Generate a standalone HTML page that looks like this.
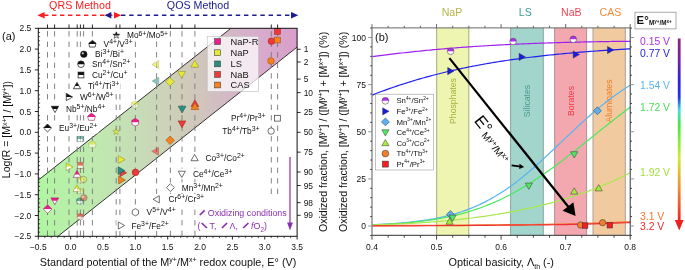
<!DOCTYPE html><html><head><meta charset="utf-8"><style>html,body{margin:0;padding:0;background:#fff;overflow:hidden;}svg{display:block;filter:blur(0.35px);}text{font-family:"Liberation Sans", sans-serif;}</style></head><body>
<svg width="685" height="270" viewBox="0 0 685 270">
<rect width="685" height="270" fill="#fff"/>
<defs><linearGradient id="bandg" x1="38.3" y1="0" x2="297.1" y2="0" gradientUnits="userSpaceOnUse"><stop offset="0" stop-color="#b0f6a2"/><stop offset="0.24" stop-color="#c0e8b0"/><stop offset="0.41" stop-color="#c8dab8"/><stop offset="0.547" stop-color="#cfcdb8"/><stop offset="0.625" stop-color="#d0c6bc"/><stop offset="0.768" stop-color="#d4b4c8"/><stop offset="0.868" stop-color="#d8aacc"/><stop offset="1" stop-color="#d89fca"/></linearGradient><clipPath id="clipA"><rect x="38.3" y="28.3" width="258.8" height="208"/></clipPath></defs>
<g clip-path="url(#clipA)">
<polygon points="38.3,180.08 230.9,28.3 297.1,28.3 297.1,47.1 57.91,236.3 38.3,236.3" fill="url(#bandg)"/>
<line x1="38.3" y1="180.08" x2="230.9" y2="28.3" stroke="#333" stroke-width="1"/>
<line x1="57.91" y1="236.3" x2="297.1" y2="47.1" stroke="#333" stroke-width="1"/>
</g>
<line x1="47.5" y1="28.3" x2="47.5" y2="236.3" stroke="#777" stroke-width="0.9" stroke-dasharray="5.4,5.1" stroke-dashoffset="-2.8"/>
<line x1="54.6" y1="28.3" x2="54.6" y2="236.3" stroke="#777" stroke-width="0.9" stroke-dasharray="5.4,5.1" stroke-dashoffset="-2.8"/>
<line x1="69" y1="28.3" x2="69" y2="236.3" stroke="#777" stroke-width="0.9" stroke-dasharray="5.4,5.1" stroke-dashoffset="-2.8"/>
<line x1="77.2" y1="28.3" x2="77.2" y2="236.3" stroke="#777" stroke-width="0.9" stroke-dasharray="5.4,5.1" stroke-dashoffset="-2.8"/>
<line x1="80.4" y1="28.3" x2="80.4" y2="236.3" stroke="#777" stroke-width="0.9" stroke-dasharray="5.4,5.1" stroke-dashoffset="-2.8"/>
<line x1="83.6" y1="28.3" x2="83.6" y2="236.3" stroke="#777" stroke-width="0.9" stroke-dasharray="5.4,5.1" stroke-dashoffset="-2.8"/>
<line x1="92.4" y1="28.3" x2="92.4" y2="236.3" stroke="#777" stroke-width="0.9" stroke-dasharray="5.4,5.1" stroke-dashoffset="-2.8"/>
<line x1="116.2" y1="28.3" x2="116.2" y2="236.3" stroke="#777" stroke-width="0.9" stroke-dasharray="5.4,5.1" stroke-dashoffset="-2.8"/>
<line x1="119.9" y1="28.3" x2="119.9" y2="236.3" stroke="#777" stroke-width="0.9" stroke-dasharray="5.4,5.1" stroke-dashoffset="-2.8"/>
<line x1="135.4" y1="28.3" x2="135.4" y2="236.3" stroke="#777" stroke-width="0.9" stroke-dasharray="5.4,5.1" stroke-dashoffset="-2.8"/>
<line x1="156.6" y1="28.3" x2="156.6" y2="236.3" stroke="#777" stroke-width="0.9" stroke-dasharray="5.4,5.1" stroke-dashoffset="-2.8"/>
<line x1="170.4" y1="28.3" x2="170.4" y2="236.3" stroke="#777" stroke-width="0.9" stroke-dasharray="5.4,5.1" stroke-dashoffset="-2.8"/>
<line x1="182" y1="28.3" x2="182" y2="236.3" stroke="#777" stroke-width="0.9" stroke-dasharray="5.4,5.1" stroke-dashoffset="-2.8"/>
<line x1="194.9" y1="28.3" x2="194.9" y2="236.3" stroke="#777" stroke-width="0.9" stroke-dasharray="5.4,5.1" stroke-dashoffset="-2.8"/>
<line x1="271.3" y1="28.3" x2="271.3" y2="236.3" stroke="#777" stroke-width="0.9" stroke-dasharray="5.4,5.1" stroke-dashoffset="-2.8"/>
<line x1="277.6" y1="28.3" x2="277.6" y2="236.3" stroke="#777" stroke-width="0.9" stroke-dasharray="5.4,5.1" stroke-dashoffset="-2.8"/>
<rect x="207.2" y="36.3" width="51.4" height="55.3" fill="#fff" fill-opacity="0.72" stroke="#bbb" stroke-width="0.6"/>
<rect x="214.7" y="38.7" width="5.8" height="5.8" fill="#ec1e8c" stroke="#333" stroke-width="0.55"/>
<text x="230.5" y="44.9" font-size="9.3" fill="#111">NaP-R</text>
<rect x="214.7" y="49.8" width="5.8" height="5.8" fill="#e6e83c" stroke="#333" stroke-width="0.55"/>
<text x="230.5" y="56" font-size="9.3" fill="#111">NaP</text>
<rect x="214.7" y="61" width="5.8" height="5.8" fill="#2a8f80" stroke="#333" stroke-width="0.55"/>
<text x="230.5" y="67.2" font-size="9.3" fill="#111">LS</text>
<rect x="214.7" y="71.5" width="5.8" height="5.8" fill="#f03a3a" stroke="#333" stroke-width="0.55"/>
<text x="230.5" y="77.7" font-size="9.3" fill="#111">NaB</text>
<rect x="214.7" y="82.1" width="5.8" height="5.8" fill="#f58220" stroke="#333" stroke-width="0.55"/>
<text x="230.5" y="88.3" font-size="9.3" fill="#111">CAS</text>
<rect x="112.5" y="30.2" width="56.6" height="10.5" fill="#fff"/>
<rect x="82" y="38.8" width="51.71" height="10.5" fill="#fff"/>
<rect x="74.5" y="49.1" width="50.46" height="10.5" fill="#fff"/>
<rect x="74.5" y="59" width="56.85" height="10.5" fill="#fff"/>
<rect x="74.5" y="69.8" width="53.92" height="10.5" fill="#fff"/>
<rect x="73" y="80.8" width="47.25" height="10.5" fill="#fff"/>
<rect x="64" y="91.8" width="50.71" height="10.5" fill="#fff"/>
<rect x="44" y="103.8" width="62.26" height="10.5" fill="#fff"/>
<rect x="43.5" y="122.8" width="54.85" height="10.5" fill="#fff"/>
<rect x="190.1" y="152.8" width="58.66" height="10.4" fill="#fff"/>
<rect x="177.3" y="168.7" width="58.96" height="10.4" fill="#fff"/>
<rect x="165.9" y="182.4" width="61" height="10.4" fill="#fff"/>
<rect x="152.1" y="194.1" width="56.06" height="10.4" fill="#fff"/>
<rect x="130.9" y="207.1" width="48.81" height="10.4" fill="#fff"/>
<rect x="116.5" y="220.3" width="56.31" height="10.4" fill="#fff"/>
<rect x="229.96" y="113" width="36.14" height="10" fill="#fff"/>
<rect x="221.19" y="126" width="38.91" height="10" fill="#fff"/>
<text x="127" y="38.4" font-size="8.3" fill="#111" text-anchor="start" ><tspan>Mo</tspan><tspan dy="-2.9" font-size="6.9">6+</tspan><tspan dy="2.9" font-size="8.3">/Mo</tspan><tspan dy="-2.9" font-size="6.9">5+</tspan></text>
<text x="103.6" y="47" font-size="8.3" fill="#111" text-anchor="start" ><tspan>V</tspan><tspan dy="-2.9" font-size="6.9">4+</tspan><tspan dy="2.9" font-size="8.3">/V</tspan><tspan dy="-2.9" font-size="6.9">3+</tspan></text>
<text x="95" y="57.3" font-size="8.3" fill="#111" text-anchor="start" ><tspan>Bi</tspan><tspan dy="-2.9" font-size="6.9">3+</tspan><tspan dy="2.9" font-size="8.3">/Bi</tspan><tspan dy="-2.9" font-size="6.9">+</tspan></text>
<text x="92" y="67.2" font-size="8.3" fill="#111" text-anchor="start" ><tspan>Sn</tspan><tspan dy="-2.9" font-size="6.9">4+</tspan><tspan dy="2.9" font-size="8.3">/Sn</tspan><tspan dy="-2.9" font-size="6.9">2+</tspan></text>
<text x="92" y="78" font-size="8.3" fill="#111" text-anchor="start" ><tspan>Cu</tspan><tspan dy="-2.9" font-size="6.9">2+</tspan><tspan dy="2.9" font-size="8.3">/Cu</tspan><tspan dy="-2.9" font-size="6.9">+</tspan></text>
<text x="88" y="89" font-size="8.3" fill="#111" text-anchor="start" ><tspan>Ti</tspan><tspan dy="-2.9" font-size="6.9">4+</tspan><tspan dy="2.9" font-size="8.3">/Ti</tspan><tspan dy="-2.9" font-size="6.9">3+</tspan></text>
<text x="80" y="100" font-size="8.3" fill="#111" text-anchor="start" ><tspan>W</tspan><tspan dy="-2.9" font-size="6.9">6+</tspan><tspan dy="2.9" font-size="8.3">/W</tspan><tspan dy="-2.9" font-size="6.9">5+</tspan></text>
<text x="66" y="112" font-size="8.3" fill="#111" text-anchor="start" ><tspan>Nb</tspan><tspan dy="-2.9" font-size="6.9">5+</tspan><tspan dy="2.9" font-size="8.3">/Nb</tspan><tspan dy="-2.9" font-size="6.9">4+</tspan></text>
<text x="59" y="131" font-size="8.3" fill="#111" text-anchor="start" ><tspan>Eu</tspan><tspan dy="-2.9" font-size="6.9">3+</tspan><tspan dy="2.9" font-size="8.3">/Eu</tspan><tspan dy="-2.9" font-size="6.9">2+</tspan></text>
<text x="205.5" y="161" font-size="8.3" fill="#111" text-anchor="start" ><tspan>Co</tspan><tspan dy="-2.9" font-size="6.9">3+</tspan><tspan dy="2.9" font-size="8.3">/Co</tspan><tspan dy="-2.9" font-size="6.9">2+</tspan></text>
<text x="193" y="176.9" font-size="8.3" fill="#111" text-anchor="start" ><tspan>Ce</tspan><tspan dy="-2.9" font-size="6.9">4+</tspan><tspan dy="2.9" font-size="8.3">/Ce</tspan><tspan dy="-2.9" font-size="6.9">3+</tspan></text>
<text x="181.8" y="190.6" font-size="8.3" fill="#111" text-anchor="start" ><tspan>Mn</tspan><tspan dy="-2.9" font-size="6.9">3+</tspan><tspan dy="2.9" font-size="8.3">/Mn</tspan><tspan dy="-2.9" font-size="6.9">2+</tspan></text>
<text x="168.6" y="202.3" font-size="8.3" fill="#111" text-anchor="start" ><tspan>Cr</tspan><tspan dy="-2.9" font-size="6.9">6+</tspan><tspan dy="2.9" font-size="8.3">/Cr</tspan><tspan dy="-2.9" font-size="6.9">3+</tspan></text>
<text x="146.6" y="215.3" font-size="8.3" fill="#111" text-anchor="start" ><tspan>V</tspan><tspan dy="-2.9" font-size="6.9">5+</tspan><tspan dy="2.9" font-size="8.3">/V</tspan><tspan dy="-2.9" font-size="6.9">4+</tspan></text>
<text x="131.4" y="228.5" font-size="8.3" fill="#111" text-anchor="start" ><tspan>Fe</tspan><tspan dy="-2.9" font-size="6.9">3+</tspan><tspan dy="2.9" font-size="8.3">/Fe</tspan><tspan dy="-2.9" font-size="6.9">2+</tspan></text>
<text x="265.6" y="120.8" font-size="8.3" fill="#111" text-anchor="end" ><tspan>Pr</tspan><tspan dy="-2.9" font-size="6.9">4+</tspan><tspan dy="2.9" font-size="8.3">/Pr</tspan><tspan dy="-2.9" font-size="6.9">3+</tspan></text>
<text x="259.6" y="133.9" font-size="8.3" fill="#111" text-anchor="end" ><tspan>Tb</tspan><tspan dy="-2.9" font-size="6.9">4+</tspan><tspan dy="2.9" font-size="8.3">/Tb</tspan><tspan dy="-2.9" font-size="6.9">3+</tspan></text>
<g><clipPath id="c1"><rect x="110.1" y="29.2" width="12.4" height="6.2"/></clipPath><polygon points="116.3,31.83 117.17,34.2 119.69,34.3 117.72,35.86 118.4,38.28 116.3,36.89 114.2,38.28 114.88,35.86 112.91,34.3 115.43,34.2" fill="#fff"/><polygon points="116.3,31.83 117.17,34.2 119.69,34.3 117.72,35.86 118.4,38.28 116.3,36.89 114.2,38.28 114.88,35.86 112.91,34.3 115.43,34.2" fill="#111" clip-path="url(#c1)"/><polygon points="116.3,31.83 117.17,34.2 119.69,34.3 117.72,35.86 118.4,38.28 116.3,36.89 114.2,38.28 114.88,35.86 112.91,34.3 115.43,34.2" fill="none" stroke="#111" stroke-width="0.6"/></g>
<g><clipPath id="c2"><rect x="85.2" y="36.8" width="14.4" height="7.2"/></clipPath><polygon points="92.4,40.4 96,43.28 95.1,47.06 89.7,47.06 88.8,43.28" fill="#fff"/><polygon points="92.4,40.4 96,43.28 95.1,47.06 89.7,47.06 88.8,43.28" fill="#111" clip-path="url(#c2)"/><polygon points="92.4,40.4 96,43.28 95.1,47.06 89.7,47.06 88.8,43.28" fill="none" stroke="#111" stroke-width="0.7"/></g>
<defs><radialGradient id="c3" cx="0.35" cy="0.35" r="0.7"><stop offset="0" stop-color="#fff"/><stop offset="0.35" stop-color="#111"/><stop offset="1" stop-color="#111"/></radialGradient></defs><circle cx="83.8" cy="54.3" r="3.3" fill="url(#c3)" stroke="#222" stroke-width="0.5" opacity="1"/>
<g><clipPath id="c4"><rect x="74.4" y="57.6" width="13.2" height="6.6"/></clipPath><circle cx="81" cy="64.2" r="3.3" fill="#fff"/><circle cx="81" cy="64.2" r="3.3" fill="#111" clip-path="url(#c4)"/><circle cx="81" cy="64.2" r="3.3" fill="none" stroke="#111" stroke-width="0.7"/></g>
<g><clipPath id="c5"><rect x="75.2" y="69.2" width="11.6" height="5.8"/></clipPath><rect x="78.1" y="72.1" width="5.8" height="5.8" fill="#fff"/><rect x="78.1" y="72.1" width="5.8" height="5.8" fill="#111" clip-path="url(#c5)"/><rect x="78.1" y="72.1" width="5.8" height="5.8" fill="none" stroke="#111" stroke-width="0.7"/></g>
<g><clipPath id="c6"><rect x="69.8" y="78.8" width="14.4" height="7.2"/></clipPath><polygon points="77,82.4 80.6,88.7 73.4,88.7" fill="#fff"/><polygon points="77,82.4 80.6,88.7 73.4,88.7" fill="#111" clip-path="url(#c6)"/><polygon points="77,82.4 80.6,88.7 73.4,88.7" fill="none" stroke="#111" stroke-width="0.7"/></g>
<g><clipPath id="c7"><rect x="61.8" y="89.8" width="14.4" height="7.2"/></clipPath><polygon points="72.6,97 66.3,93.4 66.3,100.6" fill="#fff"/><polygon points="72.6,97 66.3,93.4 66.3,100.6" fill="#111" clip-path="url(#c7)"/><polygon points="72.6,97 66.3,93.4 66.3,100.6" fill="none" stroke="#111" stroke-width="0.7"/></g>
<g><clipPath id="c8"><rect x="47.8" y="101.8" width="14.4" height="7.2"/></clipPath><polygon points="55,112.6 58.6,106.3 51.4,106.3" fill="#fff"/><polygon points="55,112.6 58.6,106.3 51.4,106.3" fill="#111" clip-path="url(#c8)"/><polygon points="55,112.6 58.6,106.3 51.4,106.3" fill="none" stroke="#111" stroke-width="0.7"/></g>
<g><clipPath id="c9"><rect x="40.3" y="120.8" width="14.4" height="7.2"/></clipPath><polygon points="47.5,124.04 51.46,128 47.5,131.96 43.54,128" fill="#fff"/><polygon points="47.5,124.04 51.46,128 47.5,131.96 43.54,128" fill="#111" clip-path="url(#c9)"/><polygon points="47.5,124.04 51.46,128 47.5,131.96 43.54,128" fill="none" stroke="#111" stroke-width="0.7"/></g>
<g><polygon points="194.6,154.4 198.2,160.7 191,160.7" fill="#fff" stroke="#333" stroke-width="0.7"/></g>
<g><polygon points="181.8,177.5 185.4,171.2 178.2,171.2" fill="#fff" stroke="#333" stroke-width="0.7"/></g>
<g><polygon points="170.4,183.64 174.36,187.6 170.4,191.56 166.44,187.6" fill="#fff" stroke="#333" stroke-width="0.7"/></g>
<g><polygon points="153,199.3 159.3,195.7 159.3,202.9" fill="#fff" stroke="#333" stroke-width="0.7"/></g>
<g><polygon points="138.52,214.1 135.4,215.9 132.28,214.1 132.28,210.5 135.4,208.7 138.52,210.5" fill="#fff" stroke="#333" stroke-width="0.7"/></g>
<g><polygon points="124.6,225.5 118.3,221.9 118.3,229.1" fill="#fff" stroke="#333" stroke-width="0.7"/></g>
<g><rect x="274.5" y="115.3" width="5.8" height="5.8" fill="#fff" stroke="#333" stroke-width="0.7"/></g>
<g><circle cx="271.1" cy="131.1" r="3.2" fill="#fff" stroke="#333" stroke-width="0.7"/></g>
<g><clipPath id="c10"><rect x="83.7" y="109.2" width="15.6" height="7.8"/></clipPath><polygon points="91.5,113.1 95.4,116.22 94.42,120.31 88.58,120.31 87.6,116.22" fill="#fff"/><polygon points="91.5,113.1 95.4,116.22 94.42,120.31 88.58,120.31 87.6,116.22" fill="#ec1e8c" clip-path="url(#c10)"/><polygon points="91.5,113.1 95.4,116.22 94.42,120.31 88.58,120.31 87.6,116.22" fill="none" stroke="#921256" stroke-width="0.55"/></g>
<g><clipPath id="c11"><rect x="127.4" y="114.5" width="15.6" height="7.8"/></clipPath><polygon points="138.58,124.25 135.2,126.2 131.82,124.25 131.82,120.35 135.2,118.4 138.58,120.35" fill="#fff"/><polygon points="138.58,124.25 135.2,126.2 131.82,124.25 131.82,120.35 135.2,118.4 138.58,120.35" fill="#ec1e8c" clip-path="url(#c11)"/><polygon points="138.58,124.25 135.2,126.2 131.82,124.25 131.82,120.35 135.2,118.4 138.58,120.35" fill="none" stroke="#921256" stroke-width="0.55"/></g>
<g><clipPath id="c12"><rect x="69.2" y="166.6" width="15.6" height="7.8"/></clipPath><polygon points="77,170.5 80.9,177.33 73.1,177.33" fill="#fff"/><polygon points="77,170.5 80.9,177.33 73.1,177.33" fill="#ec1e8c" clip-path="url(#c12)"/><polygon points="77,170.5 80.9,177.33 73.1,177.33" fill="none" stroke="#921256" stroke-width="0.55"/></g>
<g><clipPath id="c13"><rect x="47" y="193" width="15.6" height="7.8"/></clipPath><polygon points="54.8,204.7 58.7,197.88 50.9,197.88" fill="#fff"/><polygon points="54.8,204.7 58.7,197.88 50.9,197.88" fill="#ec1e8c" clip-path="url(#c13)"/><polygon points="54.8,204.7 58.7,197.88 50.9,197.88" fill="none" stroke="#921256" stroke-width="0.55"/></g>
<g><clipPath id="c14"><rect x="39.8" y="201.2" width="15.6" height="7.8"/></clipPath><polygon points="47.6,204.71 51.89,209 47.6,213.29 43.31,209" fill="#fff"/><polygon points="47.6,204.71 51.89,209 47.6,213.29 43.31,209" fill="#ec1e8c" clip-path="url(#c14)"/><polygon points="47.6,204.71 51.89,209 47.6,213.29 43.31,209" fill="none" stroke="#921256" stroke-width="0.55"/></g>
<g opacity="0.8"><polygon points="116.1,128.25 116.95,130.54 119.38,130.63 117.47,132.14 118.13,134.49 116.1,133.14 114.07,134.49 114.73,132.14 112.82,130.63 115.25,130.54" fill="#e6e83c" stroke="#8e8f25" stroke-width="0.55"/></g>
<g opacity="0.6"><clipPath id="c15"><rect x="84.5" y="136.6" width="15.6" height="7.8"/></clipPath><polygon points="92.3,140.5 96.2,143.62 95.22,147.72 89.38,147.72 88.4,143.62" fill="#fff"/><polygon points="92.3,140.5 96.2,143.62 95.22,147.72 89.38,147.72 88.4,143.62" fill="#e6e83c" clip-path="url(#c15)"/><polygon points="92.3,140.5 96.2,143.62 95.22,147.72 89.38,147.72 88.4,143.62" fill="none" stroke="#8e8f25" stroke-width="0.55"/></g>
<g opacity="0.6"><clipPath id="c16"><rect x="127.2" y="97" width="15.6" height="7.8"/></clipPath><polygon points="138.38,106.75 135,108.7 131.62,106.75 131.62,102.85 135,100.9 138.38,102.85" fill="#fff"/><polygon points="138.38,106.75 135,108.7 131.62,106.75 131.62,102.85 135,100.9 138.38,102.85" fill="#e6e83c" clip-path="url(#c16)"/><polygon points="138.38,106.75 135,108.7 131.62,106.75 131.62,102.85 135,100.9 138.38,102.85" fill="none" stroke="#8e8f25" stroke-width="0.55"/></g>
<g><clipPath id="c17"><rect x="61.3" y="159" width="15.6" height="7.8"/></clipPath><polygon points="73,166.8 66.17,162.9 66.17,170.7" fill="#fff"/><polygon points="73,166.8 66.17,162.9 66.17,170.7" fill="#e6e83c" clip-path="url(#c17)"/><polygon points="73,166.8 66.17,162.9 66.17,170.7" fill="none" stroke="#8e8f25" stroke-width="0.55"/></g>
<g><clipPath id="c18"><rect x="69.1" y="180.9" width="15.6" height="7.8"/></clipPath><polygon points="76.9,184.8 80.8,191.62 73,191.62" fill="#fff"/><polygon points="76.9,184.8 80.8,191.62 73,191.62" fill="#e6e83c" clip-path="url(#c18)"/><polygon points="76.9,184.8 80.8,191.62 73,191.62" fill="none" stroke="#8e8f25" stroke-width="0.55"/></g>
<g opacity="0.45"><clipPath id="c19"><rect x="75.1" y="186.1" width="10.4" height="5.2"/></clipPath><rect x="77.7" y="188.7" width="5.2" height="5.2" fill="#fff"/><rect x="77.7" y="188.7" width="5.2" height="5.2" fill="#e6e83c" clip-path="url(#c19)"/><rect x="77.7" y="188.7" width="5.2" height="5.2" fill="none" stroke="#8e8f25" stroke-width="0.55"/></g>
<g opacity="0.6"><clipPath id="c20"><rect x="74.8" y="173.6" width="12.8" height="6.4"/></clipPath><circle cx="81.2" cy="180" r="3.2" fill="#fff"/><circle cx="81.2" cy="180" r="3.2" fill="#e6e83c" clip-path="url(#c20)"/><circle cx="81.2" cy="180" r="3.2" fill="none" stroke="#8e8f25" stroke-width="0.55"/></g>
<defs><radialGradient id="c21" cx="0.35" cy="0.35" r="0.7"><stop offset="0" stop-color="#fff"/><stop offset="0.35" stop-color="#e6e83c"/><stop offset="1" stop-color="#e6e83c"/></radialGradient></defs><circle cx="83.6" cy="179.4" r="3.2" fill="url(#c21)" stroke="#222" stroke-width="0.5" opacity="0.5"/>
<g><polygon points="125.1,159.6 118.28,155.7 118.28,163.5" fill="#e6e83c" stroke="#8e8f25" stroke-width="0.55"/></g>
<g opacity="0.6"><polygon points="151.9,64.5 158.73,60.6 158.73,68.4" fill="#e6e83c" stroke="#8e8f25" stroke-width="0.55"/></g>
<g><polygon points="170,77.51 174.29,81.8 170,86.09 165.71,81.8" fill="#e6e83c" stroke="#8e8f25" stroke-width="0.55"/></g>
<g><polygon points="181.6,78.2 185.5,71.38 177.7,71.38" fill="#e6e83c" stroke="#8e8f25" stroke-width="0.55"/></g>
<g><polygon points="194.8,60.3 198.7,67.12 190.9,67.12" fill="#e6e83c" stroke="#8e8f25" stroke-width="0.55"/></g>
<g opacity="0.6"><clipPath id="c22"><rect x="74.4" y="133.4" width="11.2" height="5.6"/></clipPath><rect x="77.2" y="136.2" width="5.6" height="5.6" fill="#fff"/><rect x="77.2" y="136.2" width="5.6" height="5.6" fill="#2a8f80" clip-path="url(#c22)"/><rect x="77.2" y="136.2" width="5.6" height="5.6" fill="none" stroke="#1a584f" stroke-width="0.55"/></g>
<g opacity="0.6"><clipPath id="c23"><rect x="73.2" y="194.6" width="12.8" height="6.4"/></clipPath><circle cx="79.6" cy="201" r="3.2" fill="#fff"/><circle cx="79.6" cy="201" r="3.2" fill="#2a8f80" clip-path="url(#c23)"/><circle cx="79.6" cy="201" r="3.2" fill="none" stroke="#1a584f" stroke-width="0.55"/></g>
<g><polygon points="126.7,172.8 119.88,168.9 119.88,176.7" fill="#f03a3a" stroke="#942323" stroke-width="0.55"/></g>
<g><polygon points="124.9,170.6 118.08,166.7 118.08,174.5" fill="#2a8f80" stroke="#1a584f" stroke-width="0.55"/></g>
<g opacity="0.55"><polygon points="152,81.1 158.83,77.2 158.83,85" fill="#2a8f80" stroke="#1a584f" stroke-width="0.55"/></g>
<g><polygon points="182.1,113 186,106.17 178.2,106.17" fill="#2a8f80" stroke="#1a584f" stroke-width="0.55"/></g>
<g opacity="0.7"><clipPath id="c24"><rect x="74.7" y="159.9" width="11.2" height="5.6"/></clipPath><rect x="77.5" y="162.7" width="5.6" height="5.6" fill="#fff"/><rect x="77.5" y="162.7" width="5.6" height="5.6" fill="#f03a3a" clip-path="url(#c24)"/><rect x="77.5" y="162.7" width="5.6" height="5.6" fill="none" stroke="#942323" stroke-width="0.55"/></g>
<g opacity="0.7"><clipPath id="c25"><rect x="73.8" y="210.4" width="12.8" height="6.4"/></clipPath><circle cx="80.2" cy="216.8" r="3.2" fill="#fff"/><circle cx="80.2" cy="216.8" r="3.2" fill="#f03a3a" clip-path="url(#c25)"/><circle cx="80.2" cy="216.8" r="3.2" fill="none" stroke="#942323" stroke-width="0.55"/></g>
<defs><radialGradient id="c26" cx="0.35" cy="0.35" r="0.7"><stop offset="0" stop-color="#fff"/><stop offset="0.35" stop-color="#f03a3a"/><stop offset="1" stop-color="#f03a3a"/></radialGradient></defs><circle cx="83.9" cy="197.8" r="3.3" fill="url(#c26)" stroke="#222" stroke-width="0.5" opacity="0.5"/>
<g><circle cx="135.5" cy="172.4" r="3.3" fill="#f03a3a" stroke="#942323" stroke-width="0.55"/></g>
<g opacity="0.6"><polygon points="151.7,151.3 158.53,147.4 158.53,155.2" fill="#f03a3a" stroke="#942323" stroke-width="0.55"/></g>
<g><polygon points="182,127.7 185.9,120.88 178.1,120.88" fill="#f03a3a" stroke="#942323" stroke-width="0.55"/></g>
<g><polygon points="194.9,99.7 198.8,106.52 191,106.52" fill="#f03a3a" stroke="#942323" stroke-width="0.55"/></g>
<g><circle cx="271.4" cy="41.2" r="3.3" fill="#f03a3a" stroke="#942323" stroke-width="0.55"/></g>
<g><rect x="274.5" y="28.5" width="5.8" height="5.8" fill="#f03a3a" stroke="#942323" stroke-width="0.55"/></g>
<g><polygon points="125.4,180 118.58,176.1 118.58,183.9" fill="#f58220" stroke="#975013" stroke-width="0.55"/></g>
<g><polygon points="170.1,136.01 174.39,140.3 170.1,144.59 165.81,140.3" fill="#f58220" stroke="#975013" stroke-width="0.55"/></g>
<g><polygon points="194.9,102.7 198.8,109.52 191,109.52" fill="#f58220" stroke="#975013" stroke-width="0.55"/></g>
<g><circle cx="271" cy="61" r="3.3" fill="#f58220" stroke="#975013" stroke-width="0.55"/></g>
<g><rect x="274.5" y="37.1" width="5.8" height="5.8" fill="#f58220" stroke="#975013" stroke-width="0.55"/></g>
<polygon points="197,205.5 212,205.5 212,194.5 288,194.5 288,235.8 197,235.8" fill="#fff"/>
<line x1="199.8" y1="215" x2="204.6" y2="210.4" stroke="#8b2fb0" stroke-width="1.7"/>
<text x="207.8" y="216.4" font-size="8.9" fill="#8b2fb0">Oxidizing conditions</text>
<text x="197.6" y="229.4" font-size="8.9" fill="#8b2fb0">(</text>
<line x1="201.6" y1="223" x2="207" y2="228" stroke="#8b2fb0" stroke-width="1.7"/>
<text x="209.6" y="229.4" font-size="8.9" fill="#8b2fb0">T,</text>
<line x1="222" y1="228" x2="227" y2="223" stroke="#8b2fb0" stroke-width="1.7"/>
<text x="229.6" y="229.4" font-size="8.9" fill="#8b2fb0">&#923;,</text>
<line x1="243.2" y1="228" x2="248.4" y2="223" stroke="#8b2fb0" stroke-width="1.7"/>
<text x="251" y="229.4" font-size="8.9" fill="#8b2fb0"><tspan font-style="italic">f</tspan>O<tspan dy="2.2" font-size="6.4">2</tspan><tspan dy="-2.2">)</tspan></text>
<line x1="290" y1="157" x2="290" y2="224" stroke="#8b2fb0" stroke-width="1.2"/>
<polygon points="287.1,222.6 292.9,222.6 290,230.6" fill="#8b2fb0"/>
<rect x="38.3" y="28.3" width="258.8" height="208" fill="none" stroke="#111" stroke-width="1"/>
<line x1="34.8" y1="28.3" x2="38.3" y2="28.3" stroke="#111" stroke-width="0.9"/>
<text x="31.3" y="31.3" font-size="8.5" fill="#111" text-anchor="end">2.5</text>
<line x1="38.3" y1="32.46" x2="40.1" y2="32.46" stroke="#111" stroke-width="0.7"/>
<line x1="38.3" y1="36.62" x2="40.1" y2="36.62" stroke="#111" stroke-width="0.7"/>
<line x1="38.3" y1="40.78" x2="40.1" y2="40.78" stroke="#111" stroke-width="0.7"/>
<line x1="38.3" y1="44.94" x2="40.1" y2="44.94" stroke="#111" stroke-width="0.7"/>
<line x1="34.8" y1="49.1" x2="38.3" y2="49.1" stroke="#111" stroke-width="0.9"/>
<text x="31.3" y="52.1" font-size="8.5" fill="#111" text-anchor="end">2.0</text>
<line x1="38.3" y1="53.26" x2="40.1" y2="53.26" stroke="#111" stroke-width="0.7"/>
<line x1="38.3" y1="57.42" x2="40.1" y2="57.42" stroke="#111" stroke-width="0.7"/>
<line x1="38.3" y1="61.58" x2="40.1" y2="61.58" stroke="#111" stroke-width="0.7"/>
<line x1="38.3" y1="65.74" x2="40.1" y2="65.74" stroke="#111" stroke-width="0.7"/>
<line x1="34.8" y1="69.9" x2="38.3" y2="69.9" stroke="#111" stroke-width="0.9"/>
<text x="31.3" y="72.9" font-size="8.5" fill="#111" text-anchor="end">1.5</text>
<line x1="38.3" y1="74.06" x2="40.1" y2="74.06" stroke="#111" stroke-width="0.7"/>
<line x1="38.3" y1="78.22" x2="40.1" y2="78.22" stroke="#111" stroke-width="0.7"/>
<line x1="38.3" y1="82.38" x2="40.1" y2="82.38" stroke="#111" stroke-width="0.7"/>
<line x1="38.3" y1="86.54" x2="40.1" y2="86.54" stroke="#111" stroke-width="0.7"/>
<line x1="34.8" y1="90.7" x2="38.3" y2="90.7" stroke="#111" stroke-width="0.9"/>
<text x="31.3" y="93.7" font-size="8.5" fill="#111" text-anchor="end">1.0</text>
<line x1="38.3" y1="94.86" x2="40.1" y2="94.86" stroke="#111" stroke-width="0.7"/>
<line x1="38.3" y1="99.02" x2="40.1" y2="99.02" stroke="#111" stroke-width="0.7"/>
<line x1="38.3" y1="103.18" x2="40.1" y2="103.18" stroke="#111" stroke-width="0.7"/>
<line x1="38.3" y1="107.34" x2="40.1" y2="107.34" stroke="#111" stroke-width="0.7"/>
<line x1="34.8" y1="111.5" x2="38.3" y2="111.5" stroke="#111" stroke-width="0.9"/>
<text x="31.3" y="114.5" font-size="8.5" fill="#111" text-anchor="end">0.5</text>
<line x1="38.3" y1="115.66" x2="40.1" y2="115.66" stroke="#111" stroke-width="0.7"/>
<line x1="38.3" y1="119.82" x2="40.1" y2="119.82" stroke="#111" stroke-width="0.7"/>
<line x1="38.3" y1="123.98" x2="40.1" y2="123.98" stroke="#111" stroke-width="0.7"/>
<line x1="38.3" y1="128.14" x2="40.1" y2="128.14" stroke="#111" stroke-width="0.7"/>
<line x1="34.8" y1="132.3" x2="38.3" y2="132.3" stroke="#111" stroke-width="0.9"/>
<text x="31.3" y="135.3" font-size="8.5" fill="#111" text-anchor="end">0.0</text>
<line x1="38.3" y1="136.46" x2="40.1" y2="136.46" stroke="#111" stroke-width="0.7"/>
<line x1="38.3" y1="140.62" x2="40.1" y2="140.62" stroke="#111" stroke-width="0.7"/>
<line x1="38.3" y1="144.78" x2="40.1" y2="144.78" stroke="#111" stroke-width="0.7"/>
<line x1="38.3" y1="148.94" x2="40.1" y2="148.94" stroke="#111" stroke-width="0.7"/>
<line x1="34.8" y1="153.1" x2="38.3" y2="153.1" stroke="#111" stroke-width="0.9"/>
<text x="31.3" y="156.1" font-size="8.5" fill="#111" text-anchor="end">&#8722;0.5</text>
<line x1="38.3" y1="157.26" x2="40.1" y2="157.26" stroke="#111" stroke-width="0.7"/>
<line x1="38.3" y1="161.42" x2="40.1" y2="161.42" stroke="#111" stroke-width="0.7"/>
<line x1="38.3" y1="165.58" x2="40.1" y2="165.58" stroke="#111" stroke-width="0.7"/>
<line x1="38.3" y1="169.74" x2="40.1" y2="169.74" stroke="#111" stroke-width="0.7"/>
<line x1="34.8" y1="173.9" x2="38.3" y2="173.9" stroke="#111" stroke-width="0.9"/>
<text x="31.3" y="176.9" font-size="8.5" fill="#111" text-anchor="end">&#8722;1.0</text>
<line x1="38.3" y1="178.06" x2="40.1" y2="178.06" stroke="#111" stroke-width="0.7"/>
<line x1="38.3" y1="182.22" x2="40.1" y2="182.22" stroke="#111" stroke-width="0.7"/>
<line x1="38.3" y1="186.38" x2="40.1" y2="186.38" stroke="#111" stroke-width="0.7"/>
<line x1="38.3" y1="190.54" x2="40.1" y2="190.54" stroke="#111" stroke-width="0.7"/>
<line x1="34.8" y1="194.7" x2="38.3" y2="194.7" stroke="#111" stroke-width="0.9"/>
<text x="31.3" y="197.7" font-size="8.5" fill="#111" text-anchor="end">&#8722;1.5</text>
<line x1="38.3" y1="198.86" x2="40.1" y2="198.86" stroke="#111" stroke-width="0.7"/>
<line x1="38.3" y1="203.02" x2="40.1" y2="203.02" stroke="#111" stroke-width="0.7"/>
<line x1="38.3" y1="207.18" x2="40.1" y2="207.18" stroke="#111" stroke-width="0.7"/>
<line x1="38.3" y1="211.34" x2="40.1" y2="211.34" stroke="#111" stroke-width="0.7"/>
<line x1="34.8" y1="215.5" x2="38.3" y2="215.5" stroke="#111" stroke-width="0.9"/>
<text x="31.3" y="218.5" font-size="8.5" fill="#111" text-anchor="end">&#8722;2.0</text>
<line x1="38.3" y1="219.66" x2="40.1" y2="219.66" stroke="#111" stroke-width="0.7"/>
<line x1="38.3" y1="223.82" x2="40.1" y2="223.82" stroke="#111" stroke-width="0.7"/>
<line x1="38.3" y1="227.98" x2="40.1" y2="227.98" stroke="#111" stroke-width="0.7"/>
<line x1="38.3" y1="232.14" x2="40.1" y2="232.14" stroke="#111" stroke-width="0.7"/>
<line x1="34.8" y1="236.3" x2="38.3" y2="236.3" stroke="#111" stroke-width="0.9"/>
<text x="31.3" y="239.3" font-size="8.5" fill="#111" text-anchor="end">&#8722;2.5</text>
<line x1="38.3" y1="236.3" x2="38.3" y2="239.5" stroke="#111" stroke-width="0.9"/>
<text x="38.3" y="250.2" font-size="8.5" fill="#111" text-anchor="middle">&#8722;0.5</text>
<line x1="44.77" y1="236.3" x2="44.77" y2="238.1" stroke="#111" stroke-width="0.7"/>
<line x1="51.24" y1="236.3" x2="51.24" y2="238.1" stroke="#111" stroke-width="0.7"/>
<line x1="57.71" y1="236.3" x2="57.71" y2="238.1" stroke="#111" stroke-width="0.7"/>
<line x1="64.18" y1="236.3" x2="64.18" y2="238.1" stroke="#111" stroke-width="0.7"/>
<line x1="70.65" y1="236.3" x2="70.65" y2="239.5" stroke="#111" stroke-width="0.9"/>
<text x="70.65" y="250.2" font-size="8.5" fill="#111" text-anchor="middle">0.0</text>
<line x1="77.12" y1="236.3" x2="77.12" y2="238.1" stroke="#111" stroke-width="0.7"/>
<line x1="83.59" y1="236.3" x2="83.59" y2="238.1" stroke="#111" stroke-width="0.7"/>
<line x1="90.06" y1="236.3" x2="90.06" y2="238.1" stroke="#111" stroke-width="0.7"/>
<line x1="96.53" y1="236.3" x2="96.53" y2="238.1" stroke="#111" stroke-width="0.7"/>
<line x1="103" y1="236.3" x2="103" y2="239.5" stroke="#111" stroke-width="0.9"/>
<text x="103" y="250.2" font-size="8.5" fill="#111" text-anchor="middle">0.5</text>
<line x1="109.47" y1="236.3" x2="109.47" y2="238.1" stroke="#111" stroke-width="0.7"/>
<line x1="115.94" y1="236.3" x2="115.94" y2="238.1" stroke="#111" stroke-width="0.7"/>
<line x1="122.41" y1="236.3" x2="122.41" y2="238.1" stroke="#111" stroke-width="0.7"/>
<line x1="128.88" y1="236.3" x2="128.88" y2="238.1" stroke="#111" stroke-width="0.7"/>
<line x1="135.35" y1="236.3" x2="135.35" y2="239.5" stroke="#111" stroke-width="0.9"/>
<text x="135.35" y="250.2" font-size="8.5" fill="#111" text-anchor="middle">1.0</text>
<line x1="141.82" y1="236.3" x2="141.82" y2="238.1" stroke="#111" stroke-width="0.7"/>
<line x1="148.29" y1="236.3" x2="148.29" y2="238.1" stroke="#111" stroke-width="0.7"/>
<line x1="154.76" y1="236.3" x2="154.76" y2="238.1" stroke="#111" stroke-width="0.7"/>
<line x1="161.23" y1="236.3" x2="161.23" y2="238.1" stroke="#111" stroke-width="0.7"/>
<line x1="167.7" y1="236.3" x2="167.7" y2="239.5" stroke="#111" stroke-width="0.9"/>
<text x="167.7" y="250.2" font-size="8.5" fill="#111" text-anchor="middle">1.5</text>
<line x1="174.17" y1="236.3" x2="174.17" y2="238.1" stroke="#111" stroke-width="0.7"/>
<line x1="180.64" y1="236.3" x2="180.64" y2="238.1" stroke="#111" stroke-width="0.7"/>
<line x1="187.11" y1="236.3" x2="187.11" y2="238.1" stroke="#111" stroke-width="0.7"/>
<line x1="193.58" y1="236.3" x2="193.58" y2="238.1" stroke="#111" stroke-width="0.7"/>
<line x1="200.05" y1="236.3" x2="200.05" y2="239.5" stroke="#111" stroke-width="0.9"/>
<text x="200.05" y="250.2" font-size="8.5" fill="#111" text-anchor="middle">2.0</text>
<line x1="206.52" y1="236.3" x2="206.52" y2="238.1" stroke="#111" stroke-width="0.7"/>
<line x1="212.99" y1="236.3" x2="212.99" y2="238.1" stroke="#111" stroke-width="0.7"/>
<line x1="219.46" y1="236.3" x2="219.46" y2="238.1" stroke="#111" stroke-width="0.7"/>
<line x1="225.93" y1="236.3" x2="225.93" y2="238.1" stroke="#111" stroke-width="0.7"/>
<line x1="232.4" y1="236.3" x2="232.4" y2="239.5" stroke="#111" stroke-width="0.9"/>
<text x="232.4" y="250.2" font-size="8.5" fill="#111" text-anchor="middle">2.5</text>
<line x1="238.87" y1="236.3" x2="238.87" y2="238.1" stroke="#111" stroke-width="0.7"/>
<line x1="245.34" y1="236.3" x2="245.34" y2="238.1" stroke="#111" stroke-width="0.7"/>
<line x1="251.81" y1="236.3" x2="251.81" y2="238.1" stroke="#111" stroke-width="0.7"/>
<line x1="258.28" y1="236.3" x2="258.28" y2="238.1" stroke="#111" stroke-width="0.7"/>
<line x1="264.75" y1="236.3" x2="264.75" y2="239.5" stroke="#111" stroke-width="0.9"/>
<text x="264.75" y="250.2" font-size="8.5" fill="#111" text-anchor="middle">3.0</text>
<line x1="271.22" y1="236.3" x2="271.22" y2="238.1" stroke="#111" stroke-width="0.7"/>
<line x1="277.69" y1="236.3" x2="277.69" y2="238.1" stroke="#111" stroke-width="0.7"/>
<line x1="284.16" y1="236.3" x2="284.16" y2="238.1" stroke="#111" stroke-width="0.7"/>
<line x1="290.63" y1="236.3" x2="290.63" y2="238.1" stroke="#111" stroke-width="0.7"/>
<line x1="297.1" y1="236.3" x2="297.1" y2="239.5" stroke="#111" stroke-width="0.9"/>
<text x="297.1" y="250.2" font-size="8.5" fill="#111" text-anchor="middle">3.5</text>
<line x1="47.5" y1="24.5" x2="47.5" y2="28.3" stroke="#111" stroke-width="0.9"/>
<line x1="54.6" y1="24.5" x2="54.6" y2="28.3" stroke="#111" stroke-width="0.9"/>
<line x1="69" y1="24.5" x2="69" y2="28.3" stroke="#111" stroke-width="0.9"/>
<line x1="77.2" y1="24.5" x2="77.2" y2="28.3" stroke="#111" stroke-width="0.9"/>
<line x1="80.4" y1="24.5" x2="80.4" y2="28.3" stroke="#111" stroke-width="0.9"/>
<line x1="83.6" y1="24.5" x2="83.6" y2="28.3" stroke="#111" stroke-width="0.9"/>
<line x1="92.4" y1="24.5" x2="92.4" y2="28.3" stroke="#111" stroke-width="0.9"/>
<line x1="116.2" y1="24.5" x2="116.2" y2="28.3" stroke="#111" stroke-width="0.9"/>
<line x1="119.9" y1="24.5" x2="119.9" y2="28.3" stroke="#111" stroke-width="0.9"/>
<line x1="135.4" y1="24.5" x2="135.4" y2="28.3" stroke="#111" stroke-width="0.9"/>
<line x1="156.6" y1="24.5" x2="156.6" y2="28.3" stroke="#111" stroke-width="0.9"/>
<line x1="170.4" y1="24.5" x2="170.4" y2="28.3" stroke="#111" stroke-width="0.9"/>
<line x1="182" y1="24.5" x2="182" y2="28.3" stroke="#111" stroke-width="0.9"/>
<line x1="194.9" y1="24.5" x2="194.9" y2="28.3" stroke="#111" stroke-width="0.9"/>
<line x1="271.3" y1="24.5" x2="271.3" y2="28.3" stroke="#111" stroke-width="0.9"/>
<line x1="277.6" y1="24.5" x2="277.6" y2="28.3" stroke="#111" stroke-width="0.9"/>
<line x1="297.1" y1="49.28" x2="300.6" y2="49.28" stroke="#111" stroke-width="0.9"/>
<text x="303.7" y="52.28" font-size="8.4" fill="#111">1</text>
<line x1="297.1" y1="61.99" x2="300.6" y2="61.99" stroke="#111" stroke-width="0.9"/>
<text x="303.7" y="64.99" font-size="8.4" fill="#111">2</text>
<line x1="297.1" y1="79.1" x2="300.6" y2="79.1" stroke="#111" stroke-width="0.9"/>
<text x="303.7" y="82.1" font-size="8.4" fill="#111">5</text>
<line x1="297.1" y1="92.6" x2="300.6" y2="92.6" stroke="#111" stroke-width="0.9"/>
<text x="303.7" y="95.6" font-size="8.4" fill="#111">10</text>
<line x1="297.1" y1="112.45" x2="300.6" y2="112.45" stroke="#111" stroke-width="0.9"/>
<text x="303.7" y="115.45" font-size="8.4" fill="#111">25</text>
<line x1="297.1" y1="132.3" x2="300.6" y2="132.3" stroke="#111" stroke-width="0.9"/>
<text x="303.7" y="135.3" font-size="8.4" fill="#111">50</text>
<line x1="297.1" y1="152.15" x2="300.6" y2="152.15" stroke="#111" stroke-width="0.9"/>
<text x="303.7" y="155.15" font-size="8.4" fill="#111">75</text>
<line x1="297.1" y1="172" x2="300.6" y2="172" stroke="#111" stroke-width="0.9"/>
<text x="303.7" y="175" font-size="8.4" fill="#111">90</text>
<line x1="297.1" y1="185.5" x2="300.6" y2="185.5" stroke="#111" stroke-width="0.9"/>
<text x="303.7" y="188.5" font-size="8.4" fill="#111">95</text>
<line x1="297.1" y1="202.61" x2="300.6" y2="202.61" stroke="#111" stroke-width="0.9"/>
<text x="303.7" y="205.61" font-size="8.4" fill="#111">98</text>
<line x1="297.1" y1="215.32" x2="300.6" y2="215.32" stroke="#111" stroke-width="0.9"/>
<text x="303.7" y="218.32" font-size="8.4" fill="#111">99</text>
<text x="2" y="39.6" font-size="11" fill="#111">(a)</text>
<text x="168.0" y="266.3" font-size="10.8" fill="#111" text-anchor="middle">Standard potential of the M<tspan dy="-4" font-size="7">y+</tspan><tspan dy="4">/M</tspan><tspan dy="-4" font-size="7">x+</tspan><tspan dy="4"> redox couple, E&#176; (V)</tspan></text>
<text transform="translate(10.4,129.6) rotate(-90)" x="0" y="0" font-size="10.5" fill="#111" text-anchor="middle">Log(R = [M<tspan dy="-3.8" font-size="7">x+</tspan><tspan dy="3.9">] / [M</tspan><tspan dy="-3.8" font-size="7">y+</tspan><tspan dy="3.9">])</tspan></text>
<text transform="translate(327.0,131.9) rotate(-90)" x="0" y="0" font-size="10.6" fill="#111" text-anchor="middle">Oxidized fraction, [M<tspan dy="-3.9" font-size="7.4">y+</tspan><tspan dy="3.9">] / ([M</tspan><tspan dy="-3.9" font-size="7.4">y+</tspan><tspan dy="3.9">] + [M</tspan><tspan dy="-3.9" font-size="7.4">x+</tspan><tspan dy="3.9">]) (%)</tspan></text>
<text x="80" y="9" font-size="10.7" fill="#f52020" text-anchor="middle">QRS Method</text>
<text x="198" y="9" font-size="10.7" fill="#1c1c8e" text-anchor="middle">QOS Method</text>
<line x1="44" y1="15.3" x2="114" y2="15.3" stroke="#f52020" stroke-width="1.4" stroke-dasharray="4.4,3.6"/>
<polygon points="37.3,15.3 44.6,12 44.6,18.6" fill="#f52020"/>
<polygon points="121.3,15.3 114,12 114,18.6" fill="#f52020"/>
<line x1="121" y1="15.3" x2="291" y2="15.3" stroke="#1c1c8e" stroke-width="1.4" stroke-dasharray="4.4,3.8"/>
<polygon points="104.5,15.3 111.3,12 111.3,18.6" fill="#1c1c8e"/>
<polygon points="298.3,15.3 291,12 291,18.6" fill="#1c1c8e"/>
<rect x="436.7" y="27.9" width="32.1" height="207.4" fill="#edf5b0"/>
<line x1="436.7" y1="27.9" x2="436.7" y2="235.3" stroke="#a8aa78" stroke-width="1"/>
<line x1="468.8" y1="27.9" x2="468.8" y2="235.3" stroke="#a8aa78" stroke-width="1"/>
<text x="452" y="16.2" font-size="10.6" fill="#b4b44a" text-anchor="middle">NaP</text>
<text transform="translate(455.95,101) rotate(-90)" font-size="8.7" fill="#aaae40" text-anchor="middle">Phosphates</text>
<rect x="510.6" y="27.9" width="32.7" height="207.4" fill="#a2d5cc"/>
<line x1="510.6" y1="27.9" x2="510.6" y2="235.3" stroke="#8aa6a2" stroke-width="1"/>
<line x1="543.3" y1="27.9" x2="543.3" y2="235.3" stroke="#8aa6a2" stroke-width="1"/>
<text x="525.3" y="16.2" font-size="10.6" fill="#3a9e90" text-anchor="middle">LS</text>
<text transform="translate(530.15,101) rotate(-90)" font-size="8.7" fill="#4a9a90" text-anchor="middle">Silicates</text>
<rect x="554.6" y="27.9" width="32" height="207.4" fill="#f2a8ae"/>
<line x1="554.6" y1="27.9" x2="554.6" y2="235.3" stroke="#a89294" stroke-width="1"/>
<line x1="586.6" y1="27.9" x2="586.6" y2="235.3" stroke="#a89294" stroke-width="1"/>
<text x="571.3" y="16.2" font-size="10.6" fill="#f04656" text-anchor="middle">NaB</text>
<text transform="translate(573.8,101) rotate(-90)" font-size="8.7" fill="#f03a4a" text-anchor="middle">Borates</text>
<rect x="593" y="27.9" width="32.3" height="207.4" fill="#f2caa0"/>
<line x1="593" y1="27.9" x2="593" y2="235.3" stroke="#b0a090" stroke-width="1"/>
<line x1="625.3" y1="27.9" x2="625.3" y2="235.3" stroke="#b0a090" stroke-width="1"/>
<text x="610.5" y="16.2" font-size="10.6" fill="#f38a3a" text-anchor="middle">CAS</text>
<text transform="translate(612.35,101) rotate(-90)" font-size="8.7" fill="#f27a22" text-anchor="middle">Aluminates</text>
<polyline points="372,56.66 374,56.4 376,56.14 378,55.88 380.01,55.63 382.01,55.37 384.01,55.12 386.01,54.88 388.01,54.63 390.01,54.39 392.02,54.15 394.02,53.91 396.02,53.67 398.02,53.44 400.02,53.21 402.02,52.98 404.02,52.76 406.03,52.53 408.03,52.31 410.03,52.09 412.03,51.88 414.03,51.67 416.03,51.46 418.04,51.25 420.04,51.05 422.04,50.84 424.04,50.65 426.04,50.45 428.04,50.26 430.04,50.07 432.05,49.88 434.05,49.69 436.05,49.51 438.05,49.33 440.05,49.15 442.05,48.98 444.06,48.8 446.06,48.63 448.06,48.47 450.06,48.3 452.06,48.14 454.06,47.98 456.07,47.82 458.07,47.67 460.07,47.51 462.07,47.37 464.07,47.22 466.07,47.07 468.07,46.93 470.08,46.79 472.08,46.65 474.08,46.52 476.08,46.38 478.08,46.25 480.08,46.12 482.09,46 484.09,45.87 486.09,45.75 488.09,45.63 490.09,45.52 492.09,45.4 494.09,45.29 496.1,45.17 498.1,45.07 500.1,44.96 502.1,44.85 504.1,44.75 506.1,44.65 508.11,44.55 510.11,44.45 512.11,44.36 514.11,44.26 516.11,44.17 518.11,44.08 520.11,43.99 522.12,43.9 524.12,43.82 526.12,43.74 528.12,43.65 530.12,43.57 532.12,43.5 534.13,43.42 536.13,43.34 538.13,43.27 540.13,43.2 542.13,43.13 544.13,43.06 546.13,42.99 548.14,42.93 550.14,42.86 552.14,42.8 554.14,42.74 556.14,42.68 558.14,42.62 560.15,42.56 562.15,42.5 564.15,42.45 566.15,42.39 568.15,42.34 570.15,42.29 572.16,42.24 574.16,42.19 576.16,42.14 578.16,42.1 580.16,42.05 582.16,42.01 584.16,41.96 586.17,41.92 588.17,41.88 590.17,41.84 592.17,41.8 594.17,41.77 596.17,41.73 598.18,41.69 600.18,41.66 602.18,41.63 604.18,41.59 606.18,41.56 608.18,41.53 610.18,41.5 612.19,41.47 614.19,41.45 616.19,41.42 618.19,41.39 620.19,41.37 622.19,41.35 624.2,41.32 626.2,41.3 628.2,41.28 630.2,41.26" fill="none" stroke="#a020f0" stroke-width="1.2"/>
<polyline points="372,95.09 374,94.32 376,93.55 378,92.79 380.01,92.04 382.01,91.3 384.01,90.57 386.01,89.85 388.01,89.13 390.01,88.43 392.02,87.73 394.02,87.04 396.02,86.36 398.02,85.69 400.02,85.03 402.02,84.37 404.02,83.73 406.03,83.09 408.03,82.46 410.03,81.84 412.03,81.23 414.03,80.62 416.03,80.03 418.04,79.44 420.04,78.86 422.04,78.28 424.04,77.72 426.04,77.16 428.04,76.62 430.04,76.07 432.05,75.54 434.05,75.02 436.05,74.5 438.05,73.99 440.05,73.48 442.05,72.99 444.06,72.5 446.06,72.02 448.06,71.54 450.06,71.08 452.06,70.62 454.06,70.16 456.07,69.72 458.07,69.28 460.07,68.84 462.07,68.42 464.07,68 466.07,67.58 468.07,67.17 470.08,66.77 472.08,66.38 474.08,65.99 476.08,65.61 478.08,65.23 480.08,64.86 482.09,64.49 484.09,64.13 486.09,63.78 488.09,63.43 490.09,63.09 492.09,62.75 494.09,62.42 496.1,62.09 498.1,61.77 500.1,61.45 502.1,61.14 504.1,60.83 506.1,60.53 508.11,60.23 510.11,59.94 512.11,59.66 514.11,59.37 516.11,59.09 518.11,58.82 520.11,58.55 522.12,58.28 524.12,58.02 526.12,57.77 528.12,57.51 530.12,57.27 532.12,57.02 534.13,56.78 536.13,56.54 538.13,56.31 540.13,56.08 542.13,55.86 544.13,55.63 546.13,55.42 548.14,55.2 550.14,54.99 552.14,54.78 554.14,54.58 556.14,54.38 558.14,54.18 560.15,53.99 562.15,53.79 564.15,53.61 566.15,53.42 568.15,53.24 570.15,53.06 572.16,52.88 574.16,52.71 576.16,52.54 578.16,52.37 580.16,52.21 582.16,52.04 584.16,51.88 586.17,51.73 588.17,51.57 590.17,51.42 592.17,51.27 594.17,51.12 596.17,50.98 598.18,50.84 600.18,50.7 602.18,50.56 604.18,50.42 606.18,50.29 608.18,50.16 610.18,50.03 612.19,49.9 614.19,49.78 616.19,49.66 618.19,49.54 620.19,49.42 622.19,49.3 624.2,49.19 626.2,49.07 628.2,48.96 630.2,48.85" fill="none" stroke="#2020f0" stroke-width="1.2"/>
<polyline points="372,224.68 374,224.6 376,224.52 378,224.43 380.01,224.33 382.01,224.24 384.01,224.13 386.01,224.02 388.01,223.9 390.01,223.78 392.02,223.65 394.02,223.52 396.02,223.37 398.02,223.22 400.02,223.06 402.02,222.9 404.02,222.72 406.03,222.53 408.03,222.34 410.03,222.14 412.03,221.92 414.03,221.69 416.03,221.46 418.04,221.21 420.04,220.94 422.04,220.67 424.04,220.38 426.04,220.08 428.04,219.76 430.04,219.43 432.05,219.08 434.05,218.72 436.05,218.34 438.05,217.94 440.05,217.52 442.05,217.09 444.06,216.63 446.06,216.16 448.06,215.66 450.06,215.14 452.06,214.6 454.06,214.04 456.07,213.46 458.07,212.84 460.07,212.21 462.07,211.55 464.07,210.86 466.07,210.15 468.07,209.4 470.08,208.63 472.08,207.84 474.08,207.01 476.08,206.15 478.08,205.26 480.08,204.34 482.09,203.39 484.09,202.4 486.09,201.39 488.09,200.34 490.09,199.26 492.09,198.14 494.09,197 496.1,195.82 498.1,194.6 500.1,193.35 502.1,192.07 504.1,190.75 506.1,189.4 508.11,188.02 510.11,186.61 512.11,185.16 514.11,183.68 516.11,182.17 518.11,180.63 520.11,179.06 522.12,177.46 524.12,175.83 526.12,174.17 528.12,172.49 530.12,170.79 532.12,169.06 534.13,167.3 536.13,165.53 538.13,163.74 540.13,161.92 542.13,160.09 544.13,158.25 546.13,156.39 548.14,154.52 550.14,152.64 552.14,150.75 554.14,148.85 556.14,146.95 558.14,145.04 560.15,143.13 562.15,141.22 564.15,139.31 566.15,137.4 568.15,135.5 570.15,133.61 572.16,131.72 574.16,129.84 576.16,127.97 578.16,126.11 580.16,124.27 582.16,122.44 584.16,120.63 586.17,118.83 588.17,117.06 590.17,115.3 592.17,113.56 594.17,111.85 596.17,110.15 598.18,108.48 600.18,106.84 602.18,105.21 604.18,103.62 606.18,102.05 608.18,100.5 610.18,98.98 612.19,97.49 614.19,96.03 616.19,94.59 618.19,93.18 620.19,91.8 622.19,90.45 624.2,89.12 626.2,87.83 628.2,86.56 630.2,85.32" fill="none" stroke="#5ab4f0" stroke-width="1.2"/>
<polyline points="372,224.88 374,224.81 376,224.73 378,224.65 380.01,224.56 382.01,224.47 384.01,224.37 386.01,224.27 388.01,224.16 390.01,224.05 392.02,223.93 394.02,223.81 396.02,223.67 398.02,223.54 400.02,223.39 402.02,223.24 404.02,223.08 406.03,222.91 408.03,222.73 410.03,222.55 412.03,222.35 414.03,222.15 416.03,221.94 418.04,221.71 420.04,221.48 422.04,221.24 424.04,220.98 426.04,220.72 428.04,220.44 430.04,220.15 432.05,219.85 434.05,219.54 436.05,219.21 438.05,218.87 440.05,218.51 442.05,218.15 444.06,217.76 446.06,217.37 448.06,216.95 450.06,216.52 452.06,216.08 454.06,215.62 456.07,215.14 458.07,214.64 460.07,214.13 462.07,213.6 464.07,213.05 466.07,212.48 468.07,211.9 470.08,211.29 472.08,210.67 474.08,210.02 476.08,209.36 478.08,208.67 480.08,207.96 482.09,207.24 484.09,206.49 486.09,205.72 488.09,204.93 490.09,204.11 492.09,203.28 494.09,202.42 496.1,201.54 498.1,200.64 500.1,199.72 502.1,198.77 504.1,197.8 506.1,196.81 508.11,195.79 510.11,194.76 512.11,193.7 514.11,192.62 516.11,191.51 518.11,190.39 520.11,189.24 522.12,188.07 524.12,186.88 526.12,185.67 528.12,184.44 530.12,183.18 532.12,181.91 534.13,180.62 536.13,179.3 538.13,177.97 540.13,176.62 542.13,175.25 544.13,173.87 546.13,172.46 548.14,171.05 550.14,169.61 552.14,168.16 554.14,166.69 556.14,165.21 558.14,163.72 560.15,162.21 562.15,160.7 564.15,159.17 566.15,157.63 568.15,156.08 570.15,154.52 572.16,152.95 574.16,151.37 576.16,149.79 578.16,148.2 580.16,146.61 582.16,145.01 584.16,143.41 586.17,141.8 588.17,140.19 590.17,138.58 592.17,136.98 594.17,135.37 596.17,133.76 598.18,132.15 600.18,130.55 602.18,128.94 604.18,127.35 606.18,125.76 608.18,124.17 610.18,122.59 612.19,121.01 614.19,119.45 616.19,117.89 618.19,116.34 620.19,114.8 622.19,113.27 624.2,111.75 626.2,110.24 628.2,108.74 630.2,107.26" fill="none" stroke="#4ce860" stroke-width="1.2"/>
<polyline points="372,224.93 374,224.88 376,224.82 378,224.76 380.01,224.7 382.01,224.63 384.01,224.56 386.01,224.49 388.01,224.42 390.01,224.34 392.02,224.26 394.02,224.18 396.02,224.1 398.02,224.01 400.02,223.92 402.02,223.83 404.02,223.73 406.03,223.63 408.03,223.52 410.03,223.42 412.03,223.3 414.03,223.19 416.03,223.07 418.04,222.95 420.04,222.82 422.04,222.69 424.04,222.56 426.04,222.42 428.04,222.28 430.04,222.13 432.05,221.98 434.05,221.83 436.05,221.67 438.05,221.5 440.05,221.34 442.05,221.16 444.06,220.99 446.06,220.8 448.06,220.62 450.06,220.42 452.06,220.23 454.06,220.03 456.07,219.82 458.07,219.61 460.07,219.39 462.07,219.17 464.07,218.94 466.07,218.71 468.07,218.47 470.08,218.23 472.08,217.98 474.08,217.72 476.08,217.46 478.08,217.19 480.08,216.92 482.09,216.64 484.09,216.36 486.09,216.07 488.09,215.77 490.09,215.47 492.09,215.16 494.09,214.84 496.1,214.52 498.1,214.2 500.1,213.86 502.1,213.52 504.1,213.17 506.1,212.82 508.11,212.46 510.11,212.09 512.11,211.71 514.11,211.33 516.11,210.94 518.11,210.54 520.11,210.14 522.12,209.73 524.12,209.31 526.12,208.88 528.12,208.45 530.12,208 532.12,207.55 534.13,207.1 536.13,206.63 538.13,206.15 540.13,205.67 542.13,205.18 544.13,204.68 546.13,204.17 548.14,203.65 550.14,203.12 552.14,202.59 554.14,202.04 556.14,201.49 558.14,200.92 560.15,200.35 562.15,199.76 564.15,199.17 566.15,198.56 568.15,197.95 570.15,197.32 572.16,196.69 574.16,196.04 576.16,195.38 578.16,194.71 580.16,194.03 582.16,193.34 584.16,192.63 586.17,191.92 588.17,191.19 590.17,190.45 592.17,189.69 594.17,188.93 596.17,188.15 598.18,187.35 600.18,186.55 602.18,185.73 604.18,184.89 606.18,184.05 608.18,183.18 610.18,182.31 612.19,181.42 614.19,180.51 616.19,179.59 618.19,178.65 620.19,177.7 622.19,176.74 624.2,175.75 626.2,174.75 628.2,173.74 630.2,172.71" fill="none" stroke="#a8e850" stroke-width="1.2"/>
<polyline points="372,225.6 377.94,225.57 385.73,225.54 395.01,225.5 405.38,225.45 416.44,225.4 427.83,225.34 439.14,225.27 450,225.2 461.02,225.12 472.83,225.03 485.07,224.93 497.38,224.82 509.38,224.72 520.73,224.61 531.06,224.5 540,224.4 547.32,224.31 553.28,224.22 558.21,224.14 562.49,224.06 566.45,223.97 570.45,223.87 574.85,223.75 580,223.6 586.13,223.41 593.01,223.18 600.28,222.92 607.6,222.65 614.6,222.39 620.94,222.15 626.26,221.95 630.2,221.8" fill="none" stroke="#f07830" stroke-width="1.2"/>
<polyline points="372,226 377.94,225.97 385.73,225.94 395.01,225.89 405.38,225.84 416.44,225.79 427.83,225.73 439.14,225.67 450,225.6 461.02,225.53 472.83,225.45 485.07,225.36 497.38,225.27 509.38,225.18 520.73,225.08 531.06,224.99 540,224.9 547.32,224.82 553.28,224.75 558.21,224.68 562.49,224.61 566.45,224.53 570.45,224.44 574.85,224.33 580,224.2 586.13,224.03 593.01,223.83 600.28,223.6 607.6,223.36 614.6,223.12 620.94,222.91 626.26,222.73 630.2,222.6" fill="none" stroke="#f03030" stroke-width="1.2"/>
<line x1="449.4" y1="58.1" x2="569.5" y2="208.3" stroke="#000" stroke-width="2.2"/>
<polygon points="575.6,215.9 562.6,210.8 573.4,202.2" fill="#000"/>
<line x1="511.6" y1="165.4" x2="521" y2="166.6" stroke="#000" stroke-width="1.8"/>
<polygon points="524.2,167 519.5,163.8 519.2,169" fill="#000"/>
<g transform="translate(473.6,121.0) rotate(51.35)"><text x="0" y="0" font-size="16.5" fill="#000">E&#176;</text></g>
<g transform="translate(481.0,135.6) rotate(51.35)"><text x="0" y="0" font-size="10" fill="#000">M<tspan dy="-3.2" font-size="7.8">y+</tspan><tspan dy="3.2">/M</tspan><tspan dy="-3.2" font-size="7.8">x+</tspan></text></g>
<g><clipPath id="c27"><rect x="444" y="44.7" width="13.2" height="6.6"/></clipPath><circle cx="450.6" cy="51.3" r="3.3" fill="#fff"/><circle cx="450.6" cy="51.3" r="3.3" fill="#b030f0" clip-path="url(#c27)"/><circle cx="450.6" cy="51.3" r="3.3" fill="none" stroke="#333" stroke-width="0.5"/></g>
<g><clipPath id="c28"><rect x="506.5" y="34.9" width="13.2" height="6.6"/></clipPath><circle cx="513.1" cy="41.5" r="3.3" fill="#fff"/><circle cx="513.1" cy="41.5" r="3.3" fill="#b030f0" clip-path="url(#c28)"/><circle cx="513.1" cy="41.5" r="3.3" fill="none" stroke="#333" stroke-width="0.5"/></g>
<g><clipPath id="c29"><rect x="566.7" y="32.7" width="13.2" height="6.6"/></clipPath><circle cx="573.3" cy="39.3" r="3.3" fill="#fff"/><circle cx="573.3" cy="39.3" r="3.3" fill="#b030f0" clip-path="url(#c29)"/><circle cx="573.3" cy="39.3" r="3.3" fill="none" stroke="#333" stroke-width="0.5"/></g>
<g><polygon points="454,71.1 447.7,67.5 447.7,74.7" fill="#1a1ae6" stroke="#333" stroke-width="0.5"/></g>
<g><polygon points="525.4,56.9 519.1,53.3 519.1,60.5" fill="#1a1ae6" stroke="#333" stroke-width="0.5"/></g>
<g><polygon points="579.5,54.5 573.2,50.9 573.2,58.1" fill="#1a1ae6" stroke="#333" stroke-width="0.5"/></g>
<g><polygon points="613.8,50 607.5,46.4 607.5,53.6" fill="#1a1ae6" stroke="#333" stroke-width="0.5"/></g>
<g><polygon points="450.4,210.54 454.36,214.5 450.4,218.46 446.44,214.5" fill="#5ab0f0" stroke="#333" stroke-width="0.5"/></g>
<g><polygon points="597.4,106.84 601.36,110.8 597.4,114.76 593.44,110.8" fill="#5ab0f0" stroke="#333" stroke-width="0.5"/></g>
<g><polygon points="452.6,221.4 456.2,215.1 449,215.1" fill="#50e860" stroke="#333" stroke-width="0.5"/></g>
<g><polygon points="528.8,189.4 532.4,183.1 525.2,183.1" fill="#50e860" stroke="#333" stroke-width="0.5"/></g>
<g><polygon points="574.2,158 577.8,151.7 570.6,151.7" fill="#50e860" stroke="#333" stroke-width="0.5"/></g>
<g><polygon points="449.6,218 453.2,224.3 446,224.3" fill="#a8e840" stroke="#333" stroke-width="0.5"/></g>
<g><polygon points="574.2,187.8 577.8,194.1 570.6,194.1" fill="#a8e840" stroke="#333" stroke-width="0.5"/></g>
<g><polygon points="598.7,184.6 602.3,190.9 595.1,190.9" fill="#a8e840" stroke="#333" stroke-width="0.5"/></g>
<g><circle cx="580.6" cy="225" r="3.2" fill="#f08030" stroke="#333" stroke-width="0.5"/></g>
<g><circle cx="602.6" cy="222.7" r="3.2" fill="#f08030" stroke="#333" stroke-width="0.5"/></g>
<g><rect x="582.3" y="222.8" width="5.6" height="5.6" fill="#f02020" stroke="#333" stroke-width="0.5"/></g>
<g><rect x="607" y="222.4" width="5.6" height="5.6" fill="#f02020" stroke="#333" stroke-width="0.5"/></g>
<rect x="375.6" y="94.2" width="57.8" height="75.8" fill="#fff" fill-opacity="0.85" stroke="#999" stroke-width="0.6"/>
<g><clipPath id="c30"><rect x="378.6" y="94" width="13.6" height="6.8"/></clipPath><circle cx="385.4" cy="100.8" r="3.4" fill="#fff"/><circle cx="385.4" cy="100.8" r="3.4" fill="#b030f0" clip-path="url(#c30)"/><circle cx="385.4" cy="100.8" r="3.4" fill="none" stroke="#333" stroke-width="0.5"/></g>
<text x="396.4" y="103.4" font-size="7.8" fill="#111" text-anchor="start" ><tspan>Sn</tspan><tspan dy="-3.3" font-size="4.8">4+</tspan><tspan dy="3.3" font-size="7.8">/Sn</tspan><tspan dy="-3.3" font-size="4.8">2+</tspan></text>
<g><polygon points="389,111.35 382.7,107.75 382.7,114.95" fill="#1a1ae6" stroke="#333" stroke-width="0.5"/></g>
<text x="396.4" y="113.95" font-size="7.8" fill="#111" text-anchor="start" ><tspan>Fe</tspan><tspan dy="-3.3" font-size="4.8">3+</tspan><tspan dy="3.3" font-size="7.8">/Fe</tspan><tspan dy="-3.3" font-size="4.8">2+</tspan></text>
<g><polygon points="385.4,117.94 389.36,121.9 385.4,125.86 381.44,121.9" fill="#5ab0f0" stroke="#333" stroke-width="0.5"/></g>
<text x="396.4" y="124.5" font-size="7.8" fill="#111" text-anchor="start" ><tspan>Mn</tspan><tspan dy="-3.3" font-size="4.8">3+</tspan><tspan dy="3.3" font-size="7.8">/Mn</tspan><tspan dy="-3.3" font-size="4.8">2+</tspan></text>
<g><polygon points="385.4,136.05 389,129.75 381.8,129.75" fill="#50e860" stroke="#333" stroke-width="0.5"/></g>
<text x="396.4" y="135.05" font-size="7.8" fill="#111" text-anchor="start" ><tspan>Ce</tspan><tspan dy="-3.3" font-size="4.8">4+</tspan><tspan dy="3.3" font-size="7.8">/Ce</tspan><tspan dy="-3.3" font-size="4.8">3+</tspan></text>
<g><polygon points="385.4,139.4 389,145.7 381.8,145.7" fill="#a8e840" stroke="#333" stroke-width="0.5"/></g>
<text x="396.4" y="145.6" font-size="7.8" fill="#111" text-anchor="start" ><tspan>Co</tspan><tspan dy="-3.3" font-size="4.8">3+</tspan><tspan dy="3.3" font-size="7.8">/Co</tspan><tspan dy="-3.3" font-size="4.8">2+</tspan></text>
<g><circle cx="385.4" cy="153.55" r="3.4" fill="#f08030" stroke="#333" stroke-width="0.5"/></g>
<text x="396.4" y="156.15" font-size="7.8" fill="#111" text-anchor="start" ><tspan>Tb</tspan><tspan dy="-3.3" font-size="4.8">4+</tspan><tspan dy="3.3" font-size="7.8">/Tb</tspan><tspan dy="-3.3" font-size="4.8">3+</tspan></text>
<g><rect x="382.4" y="161.1" width="6" height="6" fill="#f02020" stroke="#333" stroke-width="0.5"/></g>
<text x="396.4" y="166.7" font-size="7.8" fill="#111" text-anchor="start" ><tspan>Pr</tspan><tspan dy="-3.3" font-size="4.8">4+</tspan><tspan dy="3.3" font-size="7.8">/Pr</tspan><tspan dy="-3.3" font-size="4.8">3+</tspan></text>
<line x1="372" y1="27.9" x2="630.2" y2="27.9" stroke="#666" stroke-width="1"/>
<line x1="372" y1="235.3" x2="630.2" y2="235.3" stroke="#333" stroke-width="1"/>
<line x1="630.2" y1="27.9" x2="630.2" y2="235.3" stroke="#333" stroke-width="1"/>
<line x1="372" y1="27.9" x2="372" y2="235.3" stroke="#888" stroke-width="1.4"/>
<line x1="372" y1="24.1" x2="372" y2="27.9" stroke="#555" stroke-width="0.9"/>
<line x1="372" y1="235.3" x2="372" y2="239.67" stroke="#333" stroke-width="0.9"/>
<text x="372" y="250.3" font-size="8.5" fill="#111" text-anchor="middle">0.4</text>
<line x1="388.14" y1="25.8" x2="388.14" y2="27.9" stroke="#555" stroke-width="0.9"/>
<line x1="388.14" y1="235.3" x2="388.14" y2="237.72" stroke="#333" stroke-width="0.9"/>
<line x1="404.27" y1="25.8" x2="404.27" y2="27.9" stroke="#555" stroke-width="0.9"/>
<line x1="404.27" y1="235.3" x2="404.27" y2="237.72" stroke="#333" stroke-width="0.9"/>
<line x1="420.41" y1="25.8" x2="420.41" y2="27.9" stroke="#555" stroke-width="0.9"/>
<line x1="420.41" y1="235.3" x2="420.41" y2="237.72" stroke="#333" stroke-width="0.9"/>
<line x1="436.55" y1="24.1" x2="436.55" y2="27.9" stroke="#555" stroke-width="0.9"/>
<line x1="436.55" y1="235.3" x2="436.55" y2="239.67" stroke="#333" stroke-width="0.9"/>
<text x="436.55" y="250.3" font-size="8.5" fill="#111" text-anchor="middle">0.5</text>
<line x1="452.69" y1="25.8" x2="452.69" y2="27.9" stroke="#555" stroke-width="0.9"/>
<line x1="452.69" y1="235.3" x2="452.69" y2="237.72" stroke="#333" stroke-width="0.9"/>
<line x1="468.83" y1="25.8" x2="468.83" y2="27.9" stroke="#555" stroke-width="0.9"/>
<line x1="468.83" y1="235.3" x2="468.83" y2="237.72" stroke="#333" stroke-width="0.9"/>
<line x1="484.96" y1="25.8" x2="484.96" y2="27.9" stroke="#555" stroke-width="0.9"/>
<line x1="484.96" y1="235.3" x2="484.96" y2="237.72" stroke="#333" stroke-width="0.9"/>
<line x1="501.1" y1="24.1" x2="501.1" y2="27.9" stroke="#555" stroke-width="0.9"/>
<line x1="501.1" y1="235.3" x2="501.1" y2="239.67" stroke="#333" stroke-width="0.9"/>
<text x="501.1" y="250.3" font-size="8.5" fill="#111" text-anchor="middle">0.6</text>
<line x1="517.24" y1="25.8" x2="517.24" y2="27.9" stroke="#555" stroke-width="0.9"/>
<line x1="517.24" y1="235.3" x2="517.24" y2="237.72" stroke="#333" stroke-width="0.9"/>
<line x1="533.38" y1="25.8" x2="533.38" y2="27.9" stroke="#555" stroke-width="0.9"/>
<line x1="533.38" y1="235.3" x2="533.38" y2="237.72" stroke="#333" stroke-width="0.9"/>
<line x1="549.51" y1="25.8" x2="549.51" y2="27.9" stroke="#555" stroke-width="0.9"/>
<line x1="549.51" y1="235.3" x2="549.51" y2="237.72" stroke="#333" stroke-width="0.9"/>
<line x1="565.65" y1="24.1" x2="565.65" y2="27.9" stroke="#555" stroke-width="0.9"/>
<line x1="565.65" y1="235.3" x2="565.65" y2="239.67" stroke="#333" stroke-width="0.9"/>
<text x="565.65" y="250.3" font-size="8.5" fill="#111" text-anchor="middle">0.7</text>
<line x1="581.79" y1="25.8" x2="581.79" y2="27.9" stroke="#555" stroke-width="0.9"/>
<line x1="581.79" y1="235.3" x2="581.79" y2="237.72" stroke="#333" stroke-width="0.9"/>
<line x1="597.92" y1="25.8" x2="597.92" y2="27.9" stroke="#555" stroke-width="0.9"/>
<line x1="597.92" y1="235.3" x2="597.92" y2="237.72" stroke="#333" stroke-width="0.9"/>
<line x1="614.06" y1="25.8" x2="614.06" y2="27.9" stroke="#555" stroke-width="0.9"/>
<line x1="614.06" y1="235.3" x2="614.06" y2="237.72" stroke="#333" stroke-width="0.9"/>
<line x1="630.2" y1="24.1" x2="630.2" y2="27.9" stroke="#555" stroke-width="0.9"/>
<line x1="630.2" y1="235.3" x2="630.2" y2="239.67" stroke="#333" stroke-width="0.9"/>
<text x="630.2" y="250.3" font-size="8.5" fill="#111" text-anchor="middle">0.8</text>
<line x1="370.2" y1="235.43" x2="372" y2="235.43" stroke="#333" stroke-width="0.9"/>
<line x1="630.2" y1="235.43" x2="632" y2="235.43" stroke="#333" stroke-width="0.9"/>
<line x1="368.2" y1="226" x2="372" y2="226" stroke="#888" stroke-width="0.9"/>
<line x1="630.2" y1="226" x2="634" y2="226" stroke="#888" stroke-width="0.9"/>
<text x="366" y="229" font-size="8.5" fill="#111" text-anchor="end">0</text>
<line x1="370.2" y1="216.57" x2="372" y2="216.57" stroke="#333" stroke-width="0.9"/>
<line x1="630.2" y1="216.57" x2="632" y2="216.57" stroke="#333" stroke-width="0.9"/>
<line x1="370.2" y1="207.15" x2="372" y2="207.15" stroke="#333" stroke-width="0.9"/>
<line x1="630.2" y1="207.15" x2="632" y2="207.15" stroke="#333" stroke-width="0.9"/>
<line x1="370.2" y1="197.72" x2="372" y2="197.72" stroke="#333" stroke-width="0.9"/>
<line x1="630.2" y1="197.72" x2="632" y2="197.72" stroke="#333" stroke-width="0.9"/>
<line x1="370.2" y1="188.3" x2="372" y2="188.3" stroke="#333" stroke-width="0.9"/>
<line x1="630.2" y1="188.3" x2="632" y2="188.3" stroke="#333" stroke-width="0.9"/>
<line x1="368.2" y1="178.88" x2="372" y2="178.88" stroke="#888" stroke-width="0.9"/>
<line x1="630.2" y1="178.88" x2="634" y2="178.88" stroke="#888" stroke-width="0.9"/>
<text x="366" y="181.88" font-size="8.5" fill="#111" text-anchor="end">25</text>
<line x1="370.2" y1="169.45" x2="372" y2="169.45" stroke="#333" stroke-width="0.9"/>
<line x1="630.2" y1="169.45" x2="632" y2="169.45" stroke="#333" stroke-width="0.9"/>
<line x1="370.2" y1="160.03" x2="372" y2="160.03" stroke="#333" stroke-width="0.9"/>
<line x1="630.2" y1="160.03" x2="632" y2="160.03" stroke="#333" stroke-width="0.9"/>
<line x1="370.2" y1="150.6" x2="372" y2="150.6" stroke="#333" stroke-width="0.9"/>
<line x1="630.2" y1="150.6" x2="632" y2="150.6" stroke="#333" stroke-width="0.9"/>
<line x1="370.2" y1="141.18" x2="372" y2="141.18" stroke="#333" stroke-width="0.9"/>
<line x1="630.2" y1="141.18" x2="632" y2="141.18" stroke="#333" stroke-width="0.9"/>
<line x1="368.2" y1="131.75" x2="372" y2="131.75" stroke="#888" stroke-width="0.9"/>
<line x1="630.2" y1="131.75" x2="634" y2="131.75" stroke="#888" stroke-width="0.9"/>
<text x="366" y="134.75" font-size="8.5" fill="#111" text-anchor="end">50</text>
<line x1="370.2" y1="122.33" x2="372" y2="122.33" stroke="#333" stroke-width="0.9"/>
<line x1="630.2" y1="122.33" x2="632" y2="122.33" stroke="#333" stroke-width="0.9"/>
<line x1="370.2" y1="112.9" x2="372" y2="112.9" stroke="#333" stroke-width="0.9"/>
<line x1="630.2" y1="112.9" x2="632" y2="112.9" stroke="#333" stroke-width="0.9"/>
<line x1="370.2" y1="103.47" x2="372" y2="103.47" stroke="#333" stroke-width="0.9"/>
<line x1="630.2" y1="103.47" x2="632" y2="103.47" stroke="#333" stroke-width="0.9"/>
<line x1="370.2" y1="94.05" x2="372" y2="94.05" stroke="#333" stroke-width="0.9"/>
<line x1="630.2" y1="94.05" x2="632" y2="94.05" stroke="#333" stroke-width="0.9"/>
<line x1="368.2" y1="84.62" x2="372" y2="84.62" stroke="#888" stroke-width="0.9"/>
<line x1="630.2" y1="84.62" x2="634" y2="84.62" stroke="#888" stroke-width="0.9"/>
<text x="366" y="87.62" font-size="8.5" fill="#111" text-anchor="end">75</text>
<line x1="370.2" y1="75.2" x2="372" y2="75.2" stroke="#333" stroke-width="0.9"/>
<line x1="630.2" y1="75.2" x2="632" y2="75.2" stroke="#333" stroke-width="0.9"/>
<line x1="370.2" y1="65.78" x2="372" y2="65.78" stroke="#333" stroke-width="0.9"/>
<line x1="630.2" y1="65.78" x2="632" y2="65.78" stroke="#333" stroke-width="0.9"/>
<line x1="370.2" y1="56.35" x2="372" y2="56.35" stroke="#333" stroke-width="0.9"/>
<line x1="630.2" y1="56.35" x2="632" y2="56.35" stroke="#333" stroke-width="0.9"/>
<line x1="370.2" y1="46.93" x2="372" y2="46.93" stroke="#333" stroke-width="0.9"/>
<line x1="630.2" y1="46.93" x2="632" y2="46.93" stroke="#333" stroke-width="0.9"/>
<line x1="368.2" y1="37.5" x2="372" y2="37.5" stroke="#888" stroke-width="0.9"/>
<line x1="630.2" y1="37.5" x2="634" y2="37.5" stroke="#888" stroke-width="0.9"/>
<text x="366" y="40.5" font-size="8.5" fill="#111" text-anchor="end">100</text>
<line x1="370.2" y1="28.07" x2="372" y2="28.07" stroke="#333" stroke-width="0.9"/>
<line x1="630.2" y1="28.07" x2="632" y2="28.07" stroke="#333" stroke-width="0.9"/>
<text x="375" y="40.8" font-size="11" fill="#111">(b)</text>
<text x="501.2" y="266.3" font-size="10.9" fill="#111" text-anchor="middle">Optical basicity, &#923;<tspan dy="2.5" font-size="7">th</tspan><tspan dy="-2.5"> (-)</tspan></text>
<text transform="translate(346.6,131.9) rotate(-90)" x="0" y="0" font-size="10.6" fill="#111" text-anchor="middle">Oxidized fraction, [M<tspan dy="-3.9" font-size="7.4">y+</tspan><tspan dy="3.9">] / ([M</tspan><tspan dy="-3.9" font-size="7.4">y+</tspan><tspan dy="3.9">] + [M</tspan><tspan dy="-3.9" font-size="7.4">x+</tspan><tspan dy="3.9">]) (%)</tspan></text>
<text x="640.0" y="44.7" font-size="10.4" fill="#b030e8">0.15 V</text>
<text x="640.0" y="57" font-size="10.4" fill="#2424d8">0.77 V</text>
<text x="640.0" y="88.7" font-size="10.4" fill="#5ab4f0">1.54 V</text>
<text x="640.0" y="111" font-size="10.4" fill="#48e058">1.72 V</text>
<text x="640.0" y="176.4" font-size="10.4" fill="#a8e040">1.92 V</text>
<text x="640.0" y="220.4" font-size="10.4" fill="#f07830">3.1 V</text>
<text x="640.0" y="230.4" font-size="10.4" fill="#ee2a2a">3.2 V</text>
<rect x="635" y="12.2" width="41" height="16.7" fill="#fff" stroke="#888" stroke-width="0.7"/>
<text x="636.6" y="24.2" font-size="11.4" font-weight="bold" fill="#111">E&#176;</text>
<text x="649" y="25.2" font-size="6.3" font-weight="bold" fill="#111">M<tspan dy="-2" font-size="4.6">y+</tspan><tspan dy="2">/M</tspan><tspan dy="-2" font-size="4.6">x+</tspan></text>
<defs><linearGradient id="cbar" x1="0" y1="38.5" x2="0" y2="222" gradientUnits="userSpaceOnUse"><stop offset="0" stop-color="#98207a"/><stop offset="0.12" stop-color="#7022a8"/><stop offset="0.23" stop-color="#3020e0"/><stop offset="0.32" stop-color="#2034f0"/><stop offset="0.39" stop-color="#40e0e0"/><stop offset="0.47" stop-color="#40e840"/><stop offset="0.65" stop-color="#d0ec30"/><stop offset="0.82" stop-color="#f08c30"/><stop offset="1" stop-color="#f02020"/></linearGradient></defs>
<rect x="677.8" y="38.5" width="2.8" height="184" fill="url(#cbar)"/>
<polygon points="674.8,220 683.6,220 679.2,230.5" fill="#f02020"/>
</svg></body></html>
